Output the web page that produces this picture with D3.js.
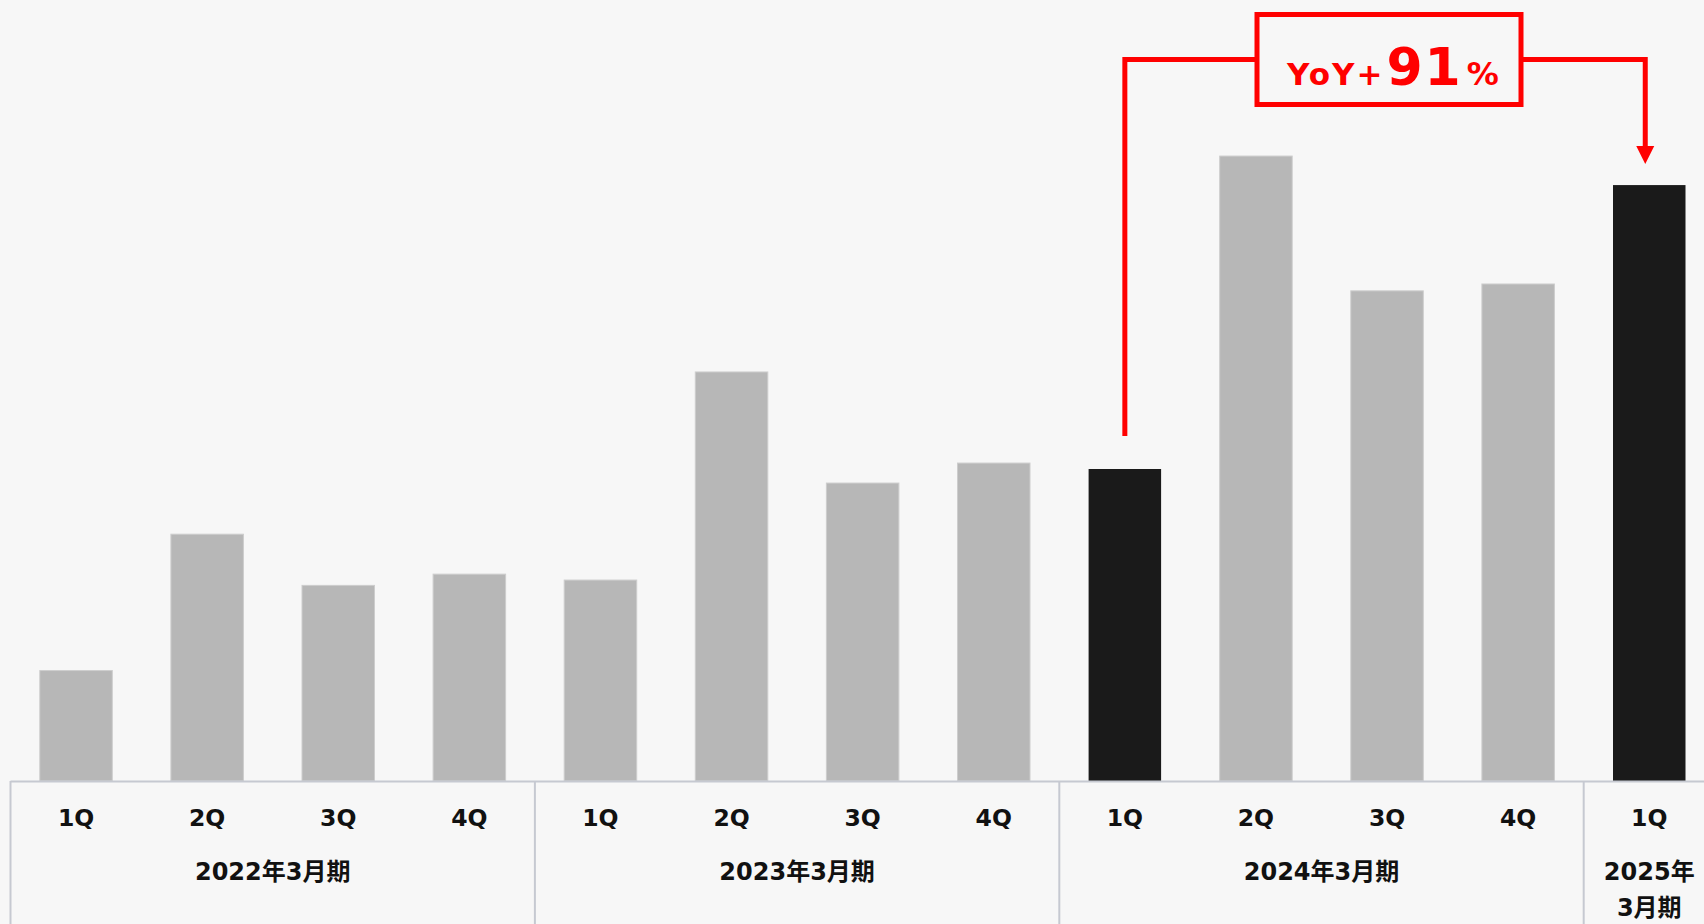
<!DOCTYPE html>
<html lang="ja">
<head>
<meta charset="utf-8">
<script src="https://cdn.jsdelivr.net/npm/d3@7"></script>
<style>
  html, body { margin: 0; padding: 0; background: #f7f7f7; }
  svg { display: block; }
  .lbl { font-family: "DejaVu Sans", "Noto Sans CJK JP", sans-serif; font-weight: bold; fill: #111; }
</style>
</head>
<body>
<svg id="chart" width="1704" height="924"></svg>
<script>
// Quarterly values per fiscal year (index: 2024年3月期 1Q = 100)
const fiscalYears = ["2022年3月期", "2023年3月期", "2024年3月期", "2025年3月期"];
const quarters = ["1Q", "2Q", "3Q", "4Q"];
const fy2022 = [35.4, 79.1, 62.7, 66.3];
const fy2023 = [64.4, 131.1, 95.5, 101.9];
const fy2024 = [100, 200.3, 157.1, 159.3];
const fy2025 = [191];
const yearValues = [fy2022, fy2023, fy2024, fy2025];
// Bars compared in the YoY callout
const highlighted = ["2024年3月期|1Q", "2025年3月期|1Q"];
const yoyLabel = ["YoY+", "91", "%"];

const rows = [];
fiscalYears.forEach((fy, gi) => {
  yearValues[gi].forEach((v, qi) => {
    rows.push({ key: fy + "|" + quarters[qi], fy, q: quarters[qi], value: v });
  });
});

const W = 1704, H = 924;
const svg = d3.select("#chart");
svg.append("rect").attr("width", W).attr("height", H).attr("fill", "#f7f7f7");

const baseY = 781;
const x = d3.scaleBand()
  .domain(rows.map(d => d.key))
  .range([10.5, 1714.8])
  .paddingInner(0.447)
  .paddingOuter(0.2235);
const y = d3.scaleLinear().domain([0, 250]).range([baseY, baseY - 250 * 3.12]);

const step = x.step();
const slotStart = k => x(k) - step * x.paddingInner() / 2;

// Bars
svg.append("g").selectAll("rect")
  .data(rows)
  .join("rect")
  .attr("x", d => x(d.key))
  .attr("y", d => y(d.value))
  .attr("width", x.bandwidth())
  .attr("height", d => y(0) - y(d.value))
  .attr("fill", d => highlighted.includes(d.key) ? "#1a1a1a" : "#b7b7b7")
  .attr("stroke", d => highlighted.includes(d.key) ? "none" : "#cdcdcd")
  .attr("stroke-width", 1);

// Category table below the bars
const axisG = svg.append("g");
const lineColor = "#c6c9d1";
axisG.append("line")
  .attr("x1", slotStart(rows[0].key)).attr("x2", W)
  .attr("y1", baseY + 0.5).attr("y2", baseY + 0.5)
  .attr("stroke", lineColor).attr("stroke-width", 2);

const groups = fiscalYears.map(fy => {
  const keys = rows.filter(r => r.fy === fy).map(r => r.key);
  const x0 = slotStart(keys[0]);
  const x1 = slotStart(keys[keys.length - 1]) + step;
  return { fy, keys, x0, x1 };
});

axisG.selectAll("line.sep")
  .data(groups)
  .join("line")
  .attr("class", "sep")
  .attr("x1", d => d.x0).attr("x2", d => d.x0)
  .attr("y1", baseY).attr("y2", H)
  .attr("stroke", lineColor).attr("stroke-width", 2);

// Quarter labels
axisG.selectAll("text.q")
  .data(rows)
  .join("text")
  .attr("class", "lbl q")
  .attr("x", d => x(d.key) + x.bandwidth() / 2)
  .attr("y", 825.5)
  .attr("text-anchor", "middle")
  .attr("font-size", 23.5)
  .text(d => d.q);

// Fiscal-year labels (narrow groups wrap after 年)
groups.forEach(g => {
  const cx = (g.x0 + g.x1) / 2;
  const t = axisG.append("text")
    .attr("class", "lbl")
    .attr("text-anchor", "middle")
    .attr("font-size", 24)
    .attr("x", cx)
    .attr("y", 879.5);
  if (g.keys.length === 1) {
    const cut = g.fy.indexOf("年") + 1;
    t.append("tspan").attr("x", cx).text(g.fy.slice(0, cut));
    t.append("tspan").attr("x", cx).attr("dy", 36).text(g.fy.slice(cut));
  } else {
    t.text(g.fy);
  }
});

// YoY callout
const red = "#ff0000";
const fromKey = highlighted[0], toKey = highlighted[1];
const fromVal = rows.find(r => r.key === fromKey).value;
const toVal = rows.find(r => r.key === toKey).value;
const fromX = x(fromKey) + x.bandwidth() / 2;
const toX = x(toKey) + x.bandwidth() / 2 - 4;
const lineY = 59.5;
const box = { x0: 1257, x1: 1521, y0: 14.5, y1: 104.5 };
const callout = svg.append("g");

callout.append("path")
  .attr("d", `M${fromX},${y(fromVal) - 33} V${lineY} H${box.x0}`)
  .attr("fill", "none").attr("stroke", red).attr("stroke-width", 5)
  .attr("stroke-linejoin", "miter");
callout.append("path")
  .attr("d", `M${box.x1},${lineY} H${toX} V${y(toVal) - 38}`)
  .attr("fill", "none").attr("stroke", red).attr("stroke-width", 5)
  .attr("stroke-linejoin", "miter");
const tipY = y(toVal) - 21;
callout.append("path")
  .attr("d", `M${toX - 9},${tipY - 18} L${toX + 9},${tipY - 18} L${toX},${tipY} Z`)
  .attr("fill", red);
callout.append("rect")
  .attr("x", box.x0).attr("y", box.y0)
  .attr("width", box.x1 - box.x0).attr("height", box.y1 - box.y0)
  .attr("fill", "#f7f7f7").attr("stroke", red).attr("stroke-width", 5);

const yt = callout.append("text")
  .attr("x", 1394).attr("y", 85)
  .attr("text-anchor", "middle")
  .attr("fill", red)
  .attr("font-family", "'DejaVu Sans', Verdana, sans-serif")
  .attr("font-weight", "bold")
  .attr("letter-spacing", 2);
yt.append("tspan").attr("font-size", 31).text(yoyLabel[0]);
yt.append("tspan").attr("font-size", 52).attr("dx", 2).text(yoyLabel[1]);
yt.append("tspan").attr("font-size", 32).attr("dx", 4).text(yoyLabel[2]);
</script>
</body>
</html>
